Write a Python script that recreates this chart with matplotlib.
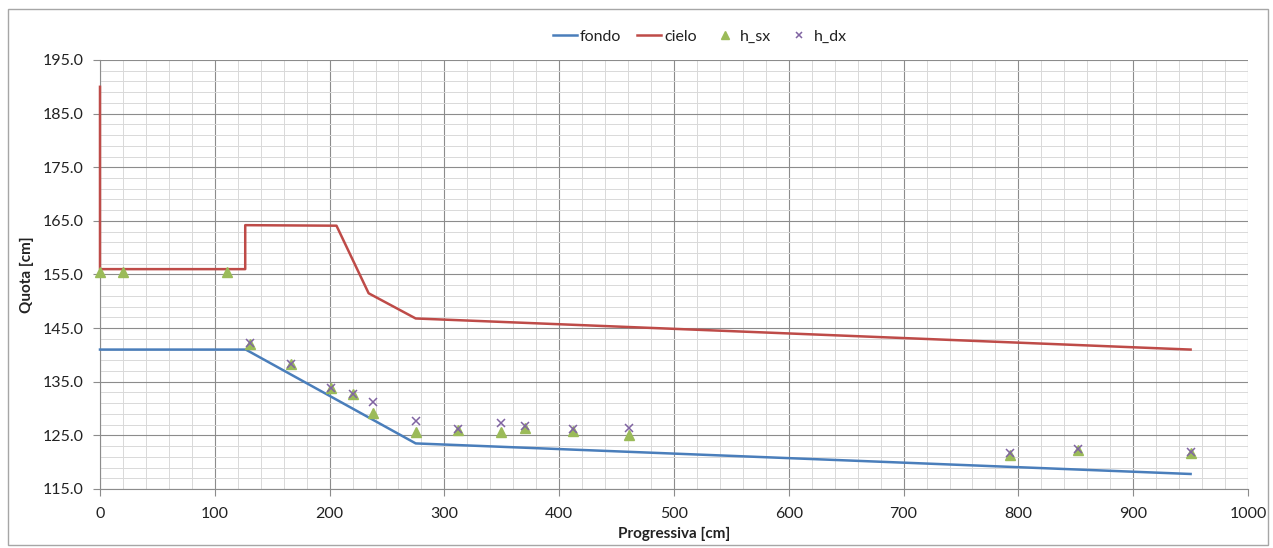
import matplotlib
matplotlib.use("Agg")
import matplotlib.pyplot as plt
import numpy as np
from matplotlib.ticker import FixedLocator, FormatStrFormatter, MultipleLocator
from matplotlib.patches import Rectangle

plt.rcParams['font.family'] = ['Lato', 'DejaVu Sans']

# Data
fondo_x = [0, 127, 275, 950]
fondo_y = [141.0, 141.0, 123.5, 117.8]

cielo_x = [0, 0, 126.5, 126.5, 206, 234, 275, 950]
cielo_y = [190.0, 156.0, 156.0, 164.2, 164.1, 151.5, 146.8, 141.0]

hsx_x = [0, 20, 111, 131, 166, 201, 220, 238, 275, 312, 349, 370, 412, 461, 793, 852, 950]
hsx_y = [155.4, 155.4, 155.4, 142.0, 138.3, 133.8, 132.7, 129.2, 125.7, 126.0, 125.7, 126.4, 125.8, 125.1, 121.4, 122.3, 121.7]

hdx_x = [131, 166, 201, 220, 238, 275, 312, 349, 370, 412, 461, 793, 852, 950]
hdx_y = [142.2, 138.4, 133.9, 132.8, 131.3, 127.6, 126.1, 127.4, 126.7, 126.2, 126.3, 121.8, 122.4, 121.9]

y_major = [115, 125, 135, 145, 155, 165, 175, 185, 195]

fig = plt.figure(figsize=(12.73, 5.48), dpi=100)
ax = fig.add_axes([100/1273, 1 - 489/548, 1148/1273, 429/548])

# outer border
fig.patches.append(Rectangle((8/1273, 3/548), 1260/1273, 536/548, transform=fig.transFigure,
                             fill=False, edgecolor='#A6A6A6', linewidth=1.0))

ax.set_xlim(0, 1000)
ax.set_ylim(115, 195)
ax.xaxis.set_major_locator(MultipleLocator(100))
ax.xaxis.set_minor_locator(MultipleLocator(20))
ax.yaxis.set_major_locator(FixedLocator(y_major))
ax.yaxis.set_minor_locator(FixedLocator(np.arange(115, 196, 2)))
ax.yaxis.set_major_formatter(FormatStrFormatter('%.1f'))

ax.grid(which='major', color='#8C8C8C', linewidth=0.8)
ax.grid(which='minor', color='#D9D9D9', linewidth=0.7)
ax.set_axisbelow(True)

for s in ['top', 'right']:
    ax.spines[s].set_visible(False)
for s in ['left', 'bottom']:
    ax.spines[s].set_color('#8C8C8C')
    ax.spines[s].set_linewidth(0.8)

ax.tick_params(which='major', direction='out', length=5, color='#8C8C8C', labelsize=11.5, labelcolor='#222222')
ax.tick_params(axis='x', which='major', pad=8)
ax.tick_params(axis='y', which='major', pad=7)
ax.tick_params(which='minor', length=0)

ax.plot(fondo_x, fondo_y, color='#4A7EBB', linewidth=1.8, label='fondo', clip_on=False, zorder=4)
ax.plot(cielo_x, cielo_y, color='#BE4B48', linewidth=1.8, label='cielo', clip_on=False, zorder=4)
ax.plot(hsx_x, hsx_y, linestyle='none', marker='^', markersize=6.5, color='#9BBB59', label='h_sx', clip_on=False, zorder=5)
ax.plot(hdx_x, hdx_y, linestyle='none', marker='x', markersize=6, markeredgewidth=1.1, color='#8064A2', label='h_dx', zorder=6)

ax.set_xlabel('Progressiva [cm]', fontsize=11, fontweight='bold', color='#222222', labelpad=4)
ax.set_ylabel('Quota [cm]', fontsize=11, fontweight='bold', color='#222222', labelpad=6)

leg = fig.legend(loc='center', bbox_to_anchor=(700/1273, 1 - 37/548), ncol=4, frameon=False,
                 fontsize=11.5, handlelength=1.5, handletextpad=0.2, columnspacing=1.0, markerscale=0.8)
for t in leg.get_texts():
    t.set_color('#222222')

fig.savefig('out.png', dpi=100)
